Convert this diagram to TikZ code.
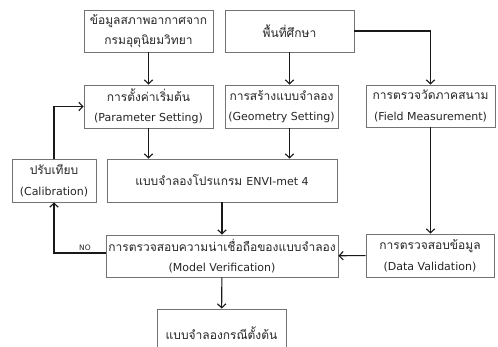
\documentclass[tikz,border=0pt]{standalone}
\usepackage{fontspec}
\setmainfont[Script=Thai]{Loma}
\newfontfamily\latinfont{DejaVu Sans}
\usetikzlibrary{arrows.meta}
\tikzset{
  box/.style={draw=black!55, line width=0.9pt, fill=white, align=center,
    inner sep=0pt, text=black!85, font=\fontsize{12}{20.5}\selectfont},
  arr/.style={draw=black!90, line width=1.1pt,
    -{Straight Barb[length=4pt,width=8.5pt,line width=1.1pt]}}
}
\newcommand{\en}[1]{{\latinfont\fontsize{11}{20.5}\selectfont #1}}
\begin{document}
\begin{tikzpicture}[x=1pt,y=-1pt]
\useasboundingbox (0,0) rectangle (498,347);
% top row
\node[box, minimum width=129pt, minimum height=42pt] (A) at (148.5,31)
  {ข้อมูลสภาพอากาศจาก\\กรมอุตุนิยมวิทยา};
\node[box, minimum width=129pt, minimum height=42pt] (B) at (289.5,31)
  {พื้นที่ศึกษา};
% setting row
\node[box, minimum width=129pt, minimum height=43pt] (C) at (148.5,106.5)
  {การตั้งค่าเริ่มต้น\\\en{(Parameter Setting)}};
\node[box, minimum width=113pt, minimum height=43pt] (D) at (281.5,106.5)
  {การสร้างแบบจำลอง\\\en{(Geometry Setting)}};
\node[box, minimum width=129pt, minimum height=42pt] (E) at (430.5,106)
  {การตรวจวัดภาคสนาม\\\en{(Field Measurement)}};
% model row
\node[box, minimum width=84pt, minimum height=43pt] (F) at (54,180.5)
  {ปรับเทียบ\\\en{(Calibration)}};
\node[box, minimum width=230pt, minimum height=43pt] (G) at (222,180.5)
  {แบบจำลองโปรแกรม \en{ENVI-met 4}};
% verification row
\node[box, minimum width=232pt, minimum height=42pt] (H) at (222,256)
  {การตรวจสอบความน่าเชื่อถือของแบบจำลอง\\\en{(Model Verification)}};
\node[box, minimum width=128pt, minimum height=43pt] (I) at (430,255.5)
  {การตรวจสอบข้อมูล\\\en{(Data Validation)}};
% result
\node[box, minimum width=129pt, minimum height=48pt] (J) at (221.5,333)
  {แบบจำลองกรณีตั้งต้น};

% connectors
\draw[arr] (A) -- (C);
\draw[arr] (B.south) -- (B.south |- D.north);
\draw[arr] (B.east) -| (E.north);
\draw[arr] (C.south) -- (C.south |- G.north);
\draw[arr] (D.south -| B.south) -- (G.north -| B.south);
\draw[arr] (E) -- (E.south |- I.north);
\draw[arr] (G) -- (H);
\draw[arr] (I) -- (H);
\draw[arr] (H) -- (J);
\draw[arr] ([yshift=3pt]H.west) -| node[pos=0.2, above=-1pt, font=\latinfont\fontsize{7.5}{8}\selectfont, text=black!85] {NO} (F.south);
\draw[arr] (F.north) |- (C.west);
\end{tikzpicture}
\end{document}
